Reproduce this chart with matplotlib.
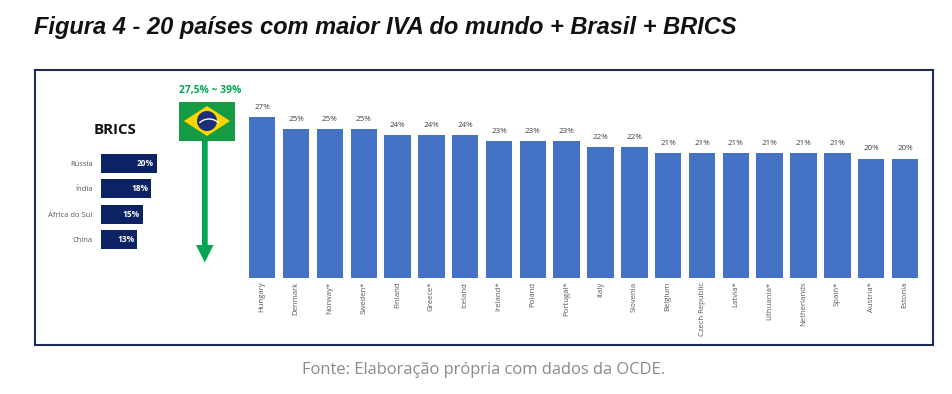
import matplotlib
matplotlib.use('Agg')
import matplotlib.pyplot as plt
from matplotlib.patches import Rectangle, Polygon, Circle, Arc

countries = ['Hungary', 'Denmark', 'Norway*', 'Sweden*', 'Finland', 'Greece*', 'Iceland', 'Ireland*',
             'Poland', 'Portugal*', 'Italy', 'Slovenia', 'Belgium', 'Czech Republic', 'Latvia*',
             'Lithuania*', 'Netherlands', 'Spain*', 'Austria*', 'Estonia']
vat = [27, 25, 25, 25, 24, 24, 24, 23, 23, 23, 22, 22, 21, 21, 21, 21, 21, 21, 20, 20]

brics = ['Rússia', 'Índia', 'África do Sul', 'China']
brics_vat = [20, 18, 15, 13]

W, H = 952, 394
BLUE = '#4472C4'
NAVY = '#0B2265'
GREEN = '#00A651'
GRAY = '#595959'

plt.rcParams['font.family'] = ['Open Sans', 'DejaVu Sans']


def axes_px(fig, left, top, right, bottom):
    # pixel box (y from the top) to a figure axes
    return fig.add_axes([left / W, 1 - bottom / H, (right - left) / W, (bottom - top) / H])


fig = plt.figure(figsize=(W / 100, H / 100), dpi=100, facecolor='white')

# overlay in pixel coordinates: frame, flag, arrow, titles
bg = fig.add_axes([0, 0, 1, 1])
bg.set_xlim(0, W)
bg.set_ylim(H, 0)
bg.axis('off')

bg.add_patch(Rectangle((35, 69.5), 897.5, 275.5, fill=False, ec='#1B2A5C', lw=1.5))

title = bg.text(34, 27.5, 'Figura 4 - 20 países com maior IVA do mundo + Brasil + BRICS', fontsize=17,
                family='Liberation Sans', style='italic', weight='bold', color='#111111', ha='left', va='center')
# fit the title to the width it has in the reference
fig.canvas.draw()
title.set_fontsize(17 * 705 / title.get_window_extent().width)

bg.text(484, 370, 'Fonte: Elaboração própria com dados da OCDE.', fontsize=11.9, color='#8A8A8A',
        ha='center', va='center')

# flag
bg.add_patch(Rectangle((179, 101.5), 56, 39.5, fc='#169B45', ec='none'))
bg.add_patch(Polygon([(184, 121), (207, 106), (230, 121), (207, 136)], fc='#FFD500', ec='none'))
bg.add_patch(Circle((207, 121), 10, fc='#1B2F7A', ec='none'))
bg.add_patch(Arc((209, 131), 26, 24, theta1=220, theta2=320, color='white', lw=1))
bg.text(210, 90.5, '27,5% ~ 39%', fontsize=7.4, weight='bold', color=GREEN, ha='center', va='center')

# arrow
bg.add_patch(Polygon([(202, 141), (207.7, 141), (207.7, 245), (213.5, 245), (204.8, 262.5),
                      (196, 245), (202, 245)], fc=GREEN, ec='none'))

bg.text(115, 130, 'BRICS', fontsize=10.8, weight='bold', color='#111111', ha='center', va='center')

# main bars
ax = axes_px(fig, 245.3, 99.3, 921.9, 277.5)
ax.patch.set_alpha(0)
ax.bar(range(len(vat)), vat, width=0.78, color=BLUE)
ax.set_xlim(-0.5, 19.5)
ax.set_ylim(0, 30)
for i, v in enumerate(vat):
    ax.text(i, v + 1.05, '%d%%' % v, fontsize=5.8, color='#404040', ha='center', va='bottom')
ax.set_yticks([])
ax.set_xticks(range(len(countries)))
ax.set_xticklabels(countries, rotation=90, fontsize=5.6, color=GRAY)
ax.tick_params(axis='x', length=0, pad=3)
for s in ax.spines.values():
    s.set_visible(False)

# BRICS bars
ax2 = axes_px(fig, 101, 151.3, 170, 251.7)
ax2.patch.set_alpha(0)
ax2.barh(range(len(brics)), brics_vat, height=0.76, color=NAVY)
ax2.set_xlim(0, 69 / 2.78)
ax2.set_ylim(3.5, -0.5)
for i, v in enumerate(brics_vat):
    ax2.text(v - 1.0, i, '%d%%' % v, fontsize=6, weight='bold', color='white', ha='right', va='center')
ax2.set_xticks([])
ax2.set_yticks(range(len(brics)))
ax2.set_yticklabels(brics, fontsize=5.5, color=GRAY)
ax2.tick_params(axis='y', length=0, pad=6)
for s in ax2.spines.values():
    s.set_visible(False)

fig.savefig('out.png', dpi=100, facecolor='white')
